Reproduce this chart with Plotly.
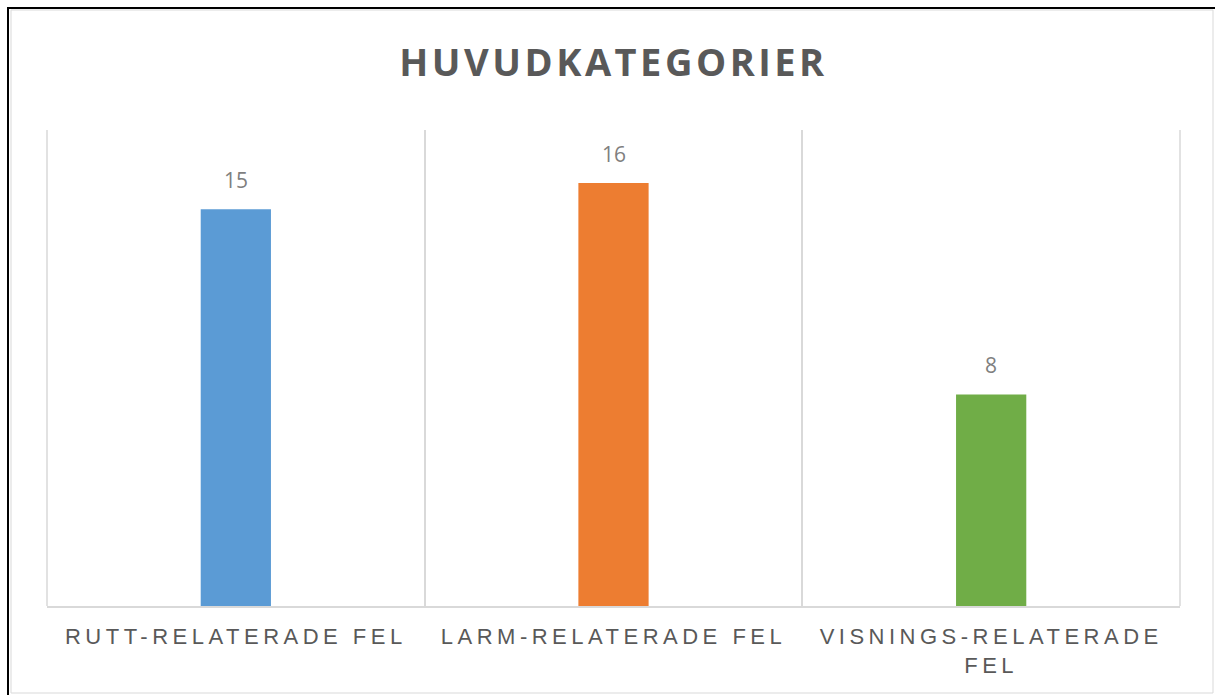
import plotly.graph_objects as go

# ---- data ----
categories = ["RUTT-RELATERADE FEL", "LARM-RELATERADE FEL", "VISNINGS-RELATERADE FEL"]
tick_labels = ["RUTT-RELATERADE FEL", "LARM-RELATERADE FEL", "VISNINGS-RELATERADE<br>FEL"]
values = [15, 16, 8]
colors = ["#5B9BD5", "#ED7D31", "#70AD47"]
title_text = "HUVUDKATEGORIER"

W, H = 1216, 695
L, R, T, B = 47, 36, 130, 89
pw, ph = W - L - R, H - T - B

def px(x):
    return (x - L) / pw

def py(y):
    return (H - B - y) / ph

fig = go.Figure()
fig.add_trace(go.Bar(
    x=categories, y=values, marker=dict(color=colors, line=dict(width=0)),
    width=0.186, showlegend=False, hoverinfo="x+y",
))

for c, v in zip(categories, values):
    fig.add_annotation(x=c, y=v, text=str(v), showarrow=False, yanchor="bottom",
                       yshift=13, font=dict(family="Open Sans", size=21, color="#7F7F7F"))

grid = dict(color="#D9D9D9", width=1.5)
shapes = [
    # edge category-boundary grid lines
    dict(type="line", xref="paper", yref="paper", x0=0, x1=0, y0=0, y1=1, line=grid, layer="below"),
    dict(type="line", xref="paper", yref="paper", x0=1, x1=1, y0=0, y1=1, line=grid, layer="below"),
    # outer black border top and left
    dict(type="line", xref="paper", yref="paper", x0=px(7), x1=px(1215), y0=py(8), y1=py(8),
         line=dict(color="#000000", width=2)),
    dict(type="line", xref="paper", yref="paper", x0=px(8), x1=px(8), y0=py(7), y1=py(695),
         line=dict(color="#000000", width=2)),
    # inner gray border
    dict(type="rect", xref="paper", yref="paper", x0=px(11), x1=px(1213), y0=py(693), y1=py(10),
         line=dict(color="#D9D9D9", width=1)),
]

fig.update_layout(
    width=W, height=H,
    margin=dict(l=L, r=R, t=T, b=B),
    paper_bgcolor="white", plot_bgcolor="white",
    title=dict(text="<b>" + title_text + "</b>", x=0.5, xref="paper", xanchor="center",
               y=1 - 63 / H, yanchor="middle",
               font=dict(family="Open Sans", size=38, color="#595959")),
    xaxis=dict(
        type="category", tickmode="array", tickvals=categories, ticktext=tick_labels,
        tickson="boundaries", showgrid=True, gridcolor="#D9D9D9", gridwidth=1.5,
        showline=True, linecolor="#D9D9D9", linewidth=2, ticks="",
        ticklabelstandoff=10,
        tickfont=dict(family="Liberation Sans, Arial", size=22, color="#595959"),
        range=[-0.5, 2.5], fixedrange=True,
    ),
    yaxis=dict(range=[0, 18], visible=False, showgrid=False, zeroline=False),
    shapes=shapes,
    bargap=0.8,
)

post = """
document.body.style.margin='0';
var s=document.createElement('style');
s.innerHTML='body{margin:0;overflow:hidden;} .xtick text{letter-spacing:4.5px;} .gtitle{letter-spacing:3.5px;}';
document.head.appendChild(s);
"""
fig.write_html("out.html", post_script=post, config={"displayModeBar": False})
